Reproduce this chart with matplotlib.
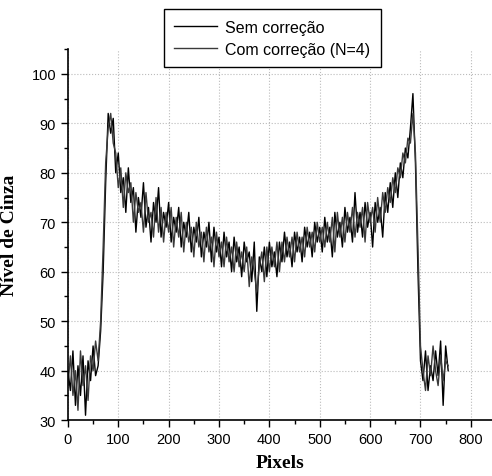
import numpy as np
import matplotlib.pyplot as plt
from matplotlib.ticker import MultipleLocator

# Nivel de cinza a cada 5 pixels
sem_correcao = [40, 36, 44, 33, 41, 35, 43, 31, 42, 38, 45, 39, 41,
                48, 60, 78, 92, 88, 91, 80, 84, 76, 79, 72, 81, 74, 77, 68, 75, 71,
                78, 69, 73, 66, 74, 70, 77, 67, 72, 69, 74, 66, 71, 68, 73, 65, 70,
                67, 72, 64, 69, 66, 71, 63, 68, 65, 70, 62, 69, 64, 67, 61, 68, 63,
                66, 60, 67, 62, 65, 59, 66, 62, 64, 58, 66, 52, 63, 60, 65, 59, 66,
                61, 64, 59, 66, 62, 68, 63, 66, 61, 68, 64, 67, 62, 69, 65, 68, 63,
                70, 66, 69, 64, 71, 66, 69, 63, 72, 67, 70, 65, 73, 68, 71, 66, 76,
                68, 72, 67, 74, 69, 72, 65, 74, 70, 73, 67, 76, 72, 78, 73, 80, 75,
                82, 79, 85, 83, 89, 96, 82, 60, 42, 38, 44, 36, 41, 38, 44, 39, 46,
                33, 45, 40]
com_correcao = [37, 43, 35, 40, 32, 44, 37, 41, 34, 43, 40, 46, 42,
                50, 65, 82, 89, 92, 86, 84, 77, 81, 73, 80, 76, 78, 70, 76, 72, 74,
                68, 76, 70, 72, 67, 75, 68, 73, 66, 72, 68, 73, 65, 71, 67, 72, 64,
                70, 66, 69, 63, 70, 65, 68, 62, 69, 64, 67, 61, 68, 63, 66, 61, 67,
                62, 65, 60, 66, 61, 64, 60, 65, 57, 63, 60, 56, 61, 64, 58, 65, 60,
                65, 61, 66, 60, 66, 62, 67, 63, 67, 62, 68, 64, 67, 63, 69, 65, 68,
                64, 70, 66, 69, 65, 70, 66, 71, 64, 72, 67, 71, 66, 72, 68, 73, 67,
                72, 69, 73, 66, 74, 70, 73, 68, 75, 70, 76, 72, 77, 74, 79, 76, 81,
                79, 84, 82, 87, 86, 92, 84, 65, 45, 40, 36, 43, 39, 45, 40, 37, 43,
                38, 42, 41]
px_a = np.arange(len(sem_correcao)) * 5
px_b = np.arange(len(com_correcao)) * 5

fig = plt.figure(figsize=(4.92, 4.77), dpi=100)
ax = fig.add_axes([0.138, 0.117, 0.862, 0.778])

l1, = ax.plot(px_a, sem_correcao, color='black', lw=1.0, label='Sem correção')
l2, = ax.plot(px_b, com_correcao, color='#3a3a3a', lw=1.0, label='Com correção (N=4)')

ax.set_xlim(0, 842)
ax.set_ylim(30, 105)
ax.xaxis.set_major_locator(MultipleLocator(100))
ax.xaxis.set_minor_locator(MultipleLocator(50))
ax.yaxis.set_major_locator(MultipleLocator(10))
ax.yaxis.set_minor_locator(MultipleLocator(5))
ax.tick_params(which='both', direction='out', width=1, labelsize=10.5)
ax.tick_params(which='major', length=5)
ax.tick_params(which='minor', length=3)
for lab in ax.get_xticklabels() + ax.get_yticklabels():
    lab.set_family('Liberation Sans')
ax.spines['top'].set_visible(False)
ax.spines['right'].set_visible(False)
ax.spines['left'].set_linewidth(1.2)
ax.spines['bottom'].set_linewidth(1.2)
ax.grid(True, color='#bbbbbb', linestyle=':', linewidth=0.8)
ax.set_axisbelow(True)

ax.set_xlabel('Pixels', family='Liberation Serif', fontweight='bold', fontsize=14, labelpad=6)
ax.set_ylabel('Nível de Cinza', family='Liberation Serif', fontweight='bold', fontsize=14, labelpad=10)

leg = fig.legend(handles=[l1, l2], loc='upper center', bbox_to_anchor=(0.553, 0.978),
                 prop={'family': 'Liberation Sans', 'size': 11.5}, fancybox=False,
                 edgecolor='black', framealpha=1, handlelength=2.7, borderpad=0.65,
                 labelspacing=0.45, handletextpad=0.5, borderaxespad=0)
leg.get_frame().set_linewidth(1)

plt.savefig('out.png', dpi=100)
